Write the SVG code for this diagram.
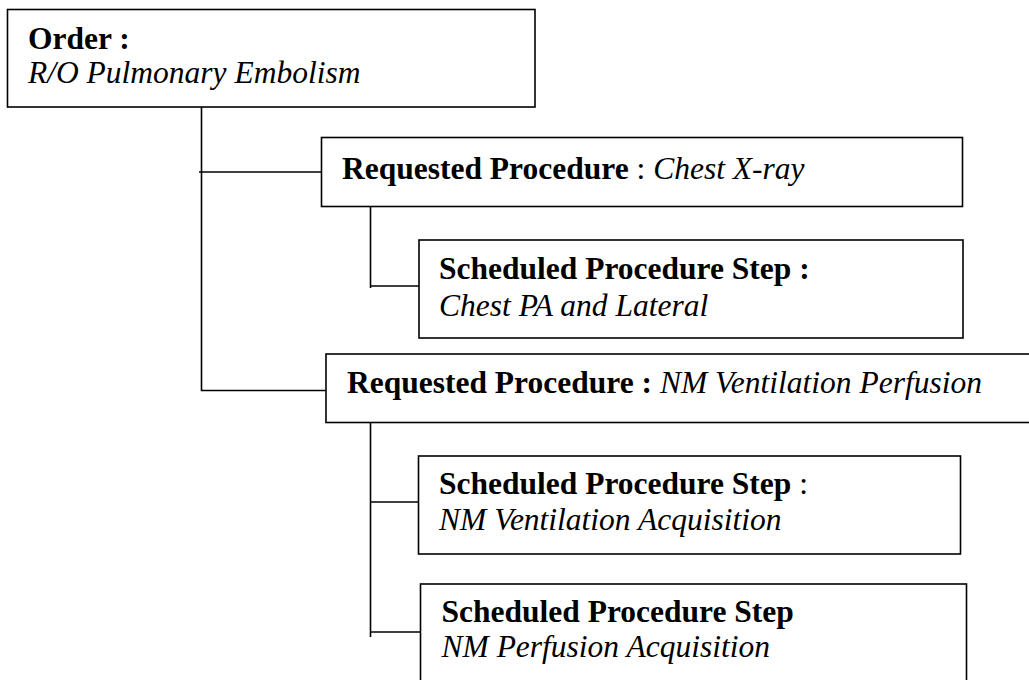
<svg xmlns="http://www.w3.org/2000/svg" width="1029" height="680" viewBox="0 0 1029 680">
<style>
.box{fill:#fff;stroke:#000;stroke-width:1.6}
.ln{stroke:#000;stroke-width:1.6;fill:none}
text{font-family:"Liberation Serif","Times New Roman",serif;font-size:31.5px;fill:#000}
.b{font-weight:bold}
.i{font-style:italic}
</style>
<rect width="1029" height="680" fill="#fff"/>
<g id="connectors">
<path class="ln" d="M201.5 107 V390.5 H326"/>
<path class="ln" d="M199 172 H321.5"/>
<path class="ln" d="M370.5 206 V288"/>
<path class="ln" d="M370 286 H419"/>
<path class="ln" d="M370.5 422 V637"/>
<path class="ln" d="M370 502 H419"/>
<path class="ln" d="M370 632 H421"/>
</g>
<g id="order">
<rect class="box" x="7.5" y="9.5" width="527.5" height="97.5"/>
<text x="28" y="49" class="b">Order :</text>
<text x="28" y="83" class="i">R/O Pulmonary Embolism</text>
</g>
<g id="rp1">
<rect class="box" x="321.5" y="137.5" width="641" height="69"/>
<text x="342" y="178.5" xml:space="preserve"><tspan class="b">Requested Procedure</tspan> : <tspan class="i">Chest X-ray</tspan></text>
</g>
<g id="sps1">
<rect class="box" x="419" y="240" width="544" height="98"/>
<text x="439" y="279" class="b">Scheduled Procedure Step :</text>
<text x="439" y="316" class="i">Chest PA and Lateral</text>
</g>
<g id="rp2">
<rect class="box" x="326" y="354" width="720" height="68.5"/>
<text x="347" y="393" xml:space="preserve"><tspan class="b">Requested Procedure : </tspan><tspan class="i">NM Ventilation Perfusion</tspan></text>
</g>
<g id="sps2">
<rect class="box" x="418.5" y="456" width="542" height="98"/>
<text x="439" y="493.5" xml:space="preserve"><tspan class="b">Scheduled Procedure Step</tspan> :</text>
<text x="439" y="530" class="i">NM Ventilation Acquisition</text>
</g>
<g id="sps3">
<rect class="box" x="420.5" y="584" width="546" height="120"/>
<text x="441.5" y="622" class="b">Scheduled Procedure Step</text>
<text x="441.5" y="657" class="i">NM Perfusion Acquisition</text>
</g>
</svg>
